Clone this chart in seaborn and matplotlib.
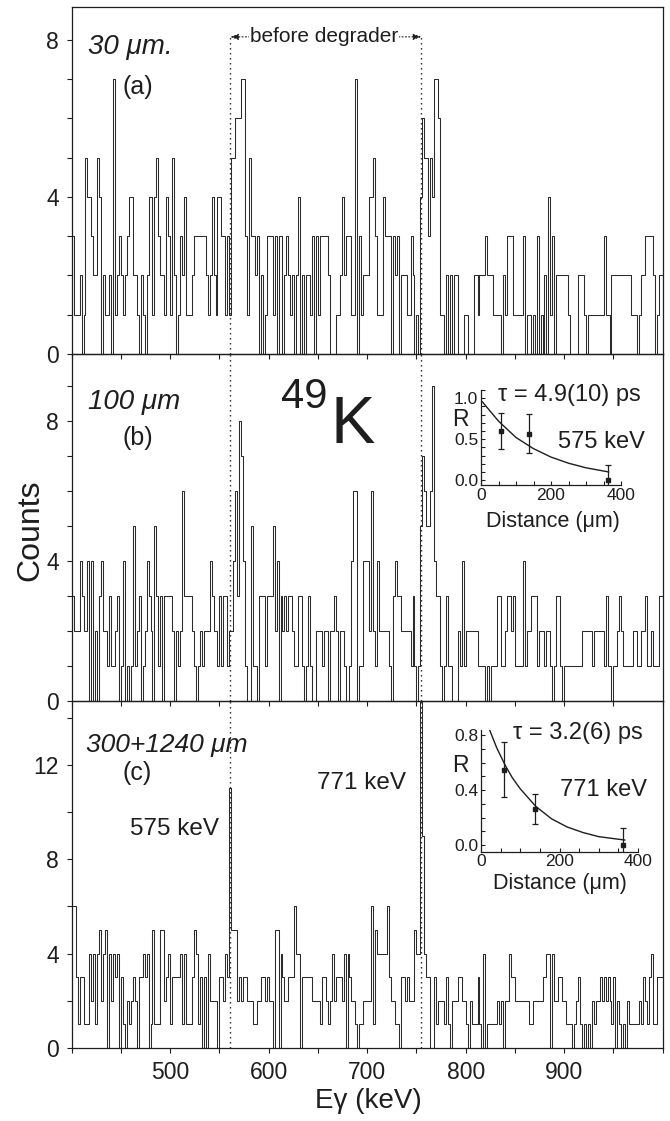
import matplotlib
matplotlib.use("Agg")
import matplotlib.pyplot as plt
from matplotlib.ticker import MultipleLocator
import numpy as np
import pandas as pd
import seaborn as sns

# gamma spectra, 2 keV channels starting at 400 keV
E_START = 400
E_STEP = 2

COUNTS_A = [
    3, 1, 1, 1, 2, 0, 1, 5, 4, 4, 3, 2, 2, 5, 4, 0, 2, 1, 1, 2, 0, 7, 1, 2, 3,
    2, 1, 2, 3, 4, 4, 2, 2, 1, 0, 2, 1, 0, 2, 4, 4, 1, 4, 5, 3, 2, 2, 1, 4, 3,
    1, 5, 2, 0, 1, 3, 2, 4, 1, 1, 1, 2, 3, 3, 3, 3, 3, 3, 2, 1, 2, 4, 2, 1, 4,
    4, 3, 3, 1, 3, 1, 5, 5, 6, 6, 6, 7, 7, 3, 1, 5, 3, 3, 2, 3, 0, 2, 0, 1, 3,
    3, 3, 1, 3, 0, 3, 3, 0, 2, 3, 2, 1, 2, 0, 2, 4, 0, 2, 0, 2, 2, 1, 3, 0, 3,
    1, 3, 3, 3, 3, 2, 0, 0, 0, 1, 1, 2, 4, 2, 3, 3, 3, 1, 1, 7, 0, 3, 1, 2, 2,
    2, 4, 4, 5, 3, 1, 1, 1, 4, 3, 3, 3, 0, 3, 2, 3, 0, 2, 2, 2, 1, 1, 3, 2, 0,
    1, 0, 4, 6, 5, 5, 3, 5, 4, 7, 7, 6, 1, 1, 0, 2, 0, 2, 0, 2, 2, 0, 0, 0, 1,
    1, 0, 0, 0, 2, 2, 1, 2, 2, 2, 3, 2, 2, 2, 1, 1, 1, 1, 0, 2, 1, 3, 3, 3, 1,
    1, 1, 1, 1, 3, 0, 1, 1, 0, 1, 0, 3, 0, 1, 0, 2, 0, 4, 1, 3, 0, 2, 2, 2, 2,
    2, 2, 1, 0, 0, 0, 0, 2, 2, 2, 1, 0, 1, 1, 1, 1, 1, 1, 1, 1, 3, 1, 1, 0, 2,
    2, 2, 2, 2, 2, 2, 2, 2, 2, 1, 1, 1, 0, 1, 2, 2, 3, 3, 3, 3, 2, 0, 1, 2, 2,
]

COUNTS_B = [
    3, 2, 2, 2, 4, 3, 2, 2, 4, 0, 4, 0, 2, 0, 3, 4, 2, 2, 1, 3, 1, 1, 2, 3, 0,
    1, 4, 0, 1, 0, 1, 5, 1, 2, 3, 0, 1, 2, 4, 3, 2, 0, 5, 3, 1, 3, 0, 3, 3, 3,
    3, 2, 0, 2, 1, 2, 6, 3, 3, 3, 3, 2, 1, 0, 1, 2, 1, 2, 2, 2, 4, 3, 2, 2, 1,
    3, 1, 3, 3, 1, 2, 2, 4, 6, 3, 8, 7, 4, 1, 0, 0, 5, 1, 1, 0, 3, 3, 3, 1, 3,
    3, 3, 5, 2, 4, 0, 3, 2, 3, 2, 3, 3, 2, 1, 1, 3, 3, 1, 0, 1, 3, 1, 0, 0, 2,
    2, 2, 1, 2, 2, 0, 2, 2, 3, 2, 0, 2, 2, 1, 0, 0, 1, 4, 6, 6, 0, 1, 1, 4, 4,
    4, 2, 6, 2, 1, 4, 2, 2, 2, 2, 2, 1, 0, 3, 4, 3, 3, 2, 2, 2, 2, 2, 1, 3, 1,
    0, 1, 5, 7, 6, 5, 5, 6, 9, 4, 3, 3, 1, 0, 1, 3, 1, 1, 0, 0, 0, 2, 1, 4, 1,
    2, 2, 2, 2, 2, 2, 1, 1, 1, 1, 0, 1, 0, 1, 1, 1, 3, 3, 1, 1, 2, 3, 3, 2, 3,
    1, 1, 1, 1, 4, 1, 2, 2, 3, 3, 3, 1, 2, 2, 2, 1, 2, 2, 1, 0, 1, 3, 3, 1, 0,
    1, 1, 1, 1, 1, 1, 1, 1, 1, 2, 2, 2, 2, 2, 1, 2, 2, 2, 2, 2, 1, 3, 1, 1, 0,
    1, 1, 2, 3, 2, 1, 1, 1, 1, 1, 2, 2, 1, 1, 2, 2, 3, 1, 1, 2, 1, 1, 1, 3, 3,
]

COUNTS_C = [
    6, 6, 3, 1, 3, 3, 1, 1, 1, 4, 2, 4, 1, 4, 5, 2, 4, 5, 0, 4, 2, 4, 3, 4, 0,
    3, 1, 0, 2, 1, 2, 3, 2, 0, 3, 3, 4, 3, 4, 0, 1, 5, 1, 1, 1, 5, 5, 2, 3, 4,
    1, 3, 3, 3, 3, 4, 1, 4, 1, 1, 1, 3, 5, 4, 1, 3, 0, 3, 0, 4, 2, 2, 2, 2, 0,
    3, 3, 2, 4, 3, 11, 5, 5, 5, 2, 3, 2, 3, 3, 2, 2, 2, 1, 1, 2, 2, 3, 3, 2, 3,
    2, 2, 0, 5, 5, 0, 4, 3, 2, 2, 3, 3, 3, 6, 4, 4, 0, 3, 3, 3, 3, 3, 2, 2, 2,
    2, 1, 3, 3, 2, 1, 2, 4, 2, 3, 3, 3, 2, 4, 0, 4, 3, 2, 2, 1, 0, 1, 1, 2, 2,
    2, 2, 6, 1, 5, 4, 4, 4, 4, 4, 6, 3, 2, 2, 1, 1, 0, 3, 3, 2, 3, 2, 2, 2, 5,
    4, 4, 15, 9, 4, 3, 3, 0, 0, 3, 1, 2, 2, 2, 1, 3, 1, 0, 2, 2, 2, 3, 3, 2, 2,
    1, 0, 2, 1, 1, 1, 3, 1, 0, 4, 0, 1, 1, 1, 1, 1, 2, 1, 2, 0, 2, 2, 4, 3, 3,
    2, 2, 2, 2, 2, 2, 2, 1, 1, 2, 2, 2, 2, 2, 3, 3, 4, 4, 0, 4, 2, 2, 3, 3, 2,
    2, 1, 1, 1, 0, 1, 2, 3, 1, 0, 1, 0, 1, 0, 2, 1, 2, 2, 3, 2, 3, 2, 3, 2, 1,
    3, 0, 2, 1, 0, 1, 0, 2, 1, 1, 1, 1, 1, 2, 1, 3, 2, 1, 3, 4, 1, 1, 3, 3, 3,
]

THICKNESS = ["30 μm.", "100 μm", "300+1240 μm"]
TAGS = ["(a)", "(b)", "(c)"]
Y_MAX = [8.83, 9.91, 14.7]
Y_LABELLED = [[0, 4, 8], [0, 4, 8], [0, 4, 8, 12]]
Y_MINOR = [1, 1, 2]
DEGRADER_E = [561, 755]          # dotted markers (keV)

# lifetime insets: ratio R vs target-degrader distance
DIST = [58, 137, 363]
R_575 = [0.605, 0.565, 0.0]
R_575_ERR = [0.22, 0.24, 0.18]
FIT_575_D = [3, 50, 100, 150, 200, 250, 300, 365]
FIT_575_R = [0.96, 0.72, 0.52, 0.384, 0.281, 0.206, 0.15, 0.099]

R_771 = [0.55, 0.26, 0.0]
R_771_ERR = [0.20, 0.11, 0.12]
FIT_771_D = [22, 40, 62, 80, 100, 140, 180, 220, 260, 300, 340, 367]
FIT_771_R = [0.84, 0.71, 0.58, 0.49, 0.41, 0.28, 0.19, 0.13, 0.09, 0.06, 0.045, 0.035]

W, H = 670, 1121
INK = "#1e1e1e"
TRACE = "#2b2b2b"


def fx(px):
    return px / W


def fy(py):
    return 1 - py / H


def style():
    sns.set_theme(style="ticks")
    plt.rcParams.update({
        "font.family": ["Liberation Sans", "DejaVu Sans"],
        "axes.edgecolor": INK,
        "axes.linewidth": 0.9,
        "xtick.color": INK,
        "ytick.color": INK,
        "text.color": INK,
        "axes.facecolor": "none",
    })


def spectrum(ax, counts, ymax, labelled, minor):
    energy = E_START + E_STEP * np.arange(len(counts)) + E_STEP / 2
    frame = pd.DataFrame({"energy": energy, "counts": counts})
    sns.histplot(data=frame, x="energy", weights="counts", binwidth=E_STEP,
                 binrange=(E_START, E_START + E_STEP * len(counts)),
                 element="step", fill=False, color=TRACE, linewidth=0.75, ax=ax)
    ax.set_xlim(400, 1000)
    ax.set_ylim(0, ymax)
    ax.set_xlabel("")
    ax.set_ylabel("")
    ax.set_yticks(labelled)
    ax.yaxis.set_minor_locator(MultipleLocator(minor))
    ax.set_xticks([500, 600, 700, 800, 900])
    ax.xaxis.set_minor_locator(MultipleLocator(50))
    ax.tick_params(which="both", direction="out", length=3.6, width=0.8,
                   labelsize=16.5, pad=5.5)
    for s in ax.spines.values():
        s.set_visible(True)


def inset(fig, rect, d_fit, r_fit, r, err, ylim, yticks):
    ax = fig.add_axes(rect)
    sns.lineplot(x=d_fit, y=r_fit, color=INK, linewidth=1.0, ax=ax)
    ax.errorbar(DIST, r, yerr=err, fmt="s", ms=3.2, color=INK, ecolor=INK,
                elinewidth=0.9, capsize=2.2, capthick=0.9)
    ax.set_xlim(0, 400)
    ax.set_ylim(*ylim)
    ax.set_xticks([0, 200, 400])
    ax.xaxis.set_minor_locator(MultipleLocator(50))
    ax.set_yticks(yticks)
    ax.set_yticklabels(["%.1f" % v for v in yticks])
    ax.yaxis.set_minor_locator(MultipleLocator(0.1))
    ax.tick_params(which="both", direction="in", length=2.6, width=0.8,
                   labelsize=12.5, pad=2)
    ax.set_xlabel("")
    ax.set_ylabel("")
    ax.spines["top"].set_visible(False)
    ax.spines["right"].set_visible(False)
    return ax


def main():
    style()
    fig = plt.figure(figsize=(W / 100, H / 100), dpi=100)

    left, right = 71.7, 662.7
    rows = [(7, 354), (354, 701), (701, 1048)]
    data = [COUNTS_A, COUNTS_B, COUNTS_C]
    axes = []
    for i, (top, bot) in enumerate(rows):
        ax = fig.add_axes([fx(left), fy(bot), (right - left) / W, (bot - top) / H])
        spectrum(ax, data[i], Y_MAX[i], Y_LABELLED[i], Y_MINOR[i])
        if i < 2:
            ax.tick_params(axis="x", labelbottom=False)
        axes.append(ax)

    # dotted reference lines through all panels
    dot = dict(color=INK, linestyle=(0, (1, 2.6)), linewidth=1.0)
    for e in DEGRADER_E:
        axes[0].vlines(e, 0, 8.07, **dot)
        axes[1].axvline(e, **dot)
        axes[2].axvline(e, **dot)
    axes[0].annotate("", xy=(DEGRADER_E[0], 8.07), xytext=(DEGRADER_E[1], 8.07),
                     arrowprops=dict(arrowstyle="<|-|>,head_length=0.4,head_width=0.15",
                                     color=INK, linestyle=(0, (1, 2)), lw=0.8,
                                     shrinkA=0, shrinkB=0))
    axes[0].text(656, 8.07, "before degrader", ha="center", va="center",
                 fontsize=15, bbox=dict(facecolor="white", edgecolor="none", pad=0.5))

    # panel labels
    fig.text(fx(88), fy(47), THICKNESS[0], fontsize=20, style="italic", va="center")
    fig.text(fx(122), fy(87), TAGS[0], fontsize=18, va="center")
    fig.text(fx(88), fy(402), THICKNESS[1], fontsize=20, style="italic", va="center")
    fig.text(fx(122), fy(438), TAGS[1], fontsize=18, va="center")
    fig.text(fx(86), fy(745), THICKNESS[2], fontsize=19, style="italic", va="center")
    fig.text(fx(122), fy(773), TAGS[2], fontsize=18, va="center")
    fig.text(fx(130), fy(829), "575 keV", fontsize=17.5, va="center")
    fig.text(fx(317), fy(783), "771 keV", fontsize=17.5, va="center")
    fig.text(fx(281), fy(397), "49", fontsize=30, va="center")
    fig.text(fx(331), fy(426), "K", fontsize=48, va="center")

    fig.text(fx(30), fy(530), "Counts", fontsize=23, rotation=90, ha="center", va="center")
    fig.text(fx(368), fy(1101), "Eγ (keV)", fontsize=20, ha="center", va="center")

    # insets
    inset(fig, [fx(481), fy(485), 140 / W, 95 / H], FIT_575_D, FIT_575_R,
          R_575, R_575_ERR, (-0.06, 1.1), [0.0, 0.5, 1.0])
    fig.text(fx(498), fy(395), "τ = 4.9(10) ps", fontsize=17, va="center")
    fig.text(fx(558), fy(442), "575 keV", fontsize=17, va="center")
    fig.text(fx(452), fy(420), "R", fontsize=16.5, va="center")
    fig.text(fx(553), fy(522), "Distance (μm)", fontsize=15.5, ha="center", va="center")

    inset(fig, [fx(481), fy(851.7), 157 / W, 121.7 / H], FIT_771_D, FIT_771_R,
          R_771, R_771_ERR, (-0.05, 0.84), [0.0, 0.4, 0.8])
    fig.text(fx(513), fy(733), "τ = 3.2(6) ps", fontsize=17, va="center")
    fig.text(fx(560), fy(790), "771 keV", fontsize=17, va="center")
    fig.text(fx(452), fy(765), "R", fontsize=16.5, va="center")
    fig.text(fx(560), fy(883), "Distance (μm)", fontsize=15.5, ha="center", va="center")

    fig.savefig("out.png", dpi=100)
    plt.close(fig)


if __name__ == "__main__":
    main()
